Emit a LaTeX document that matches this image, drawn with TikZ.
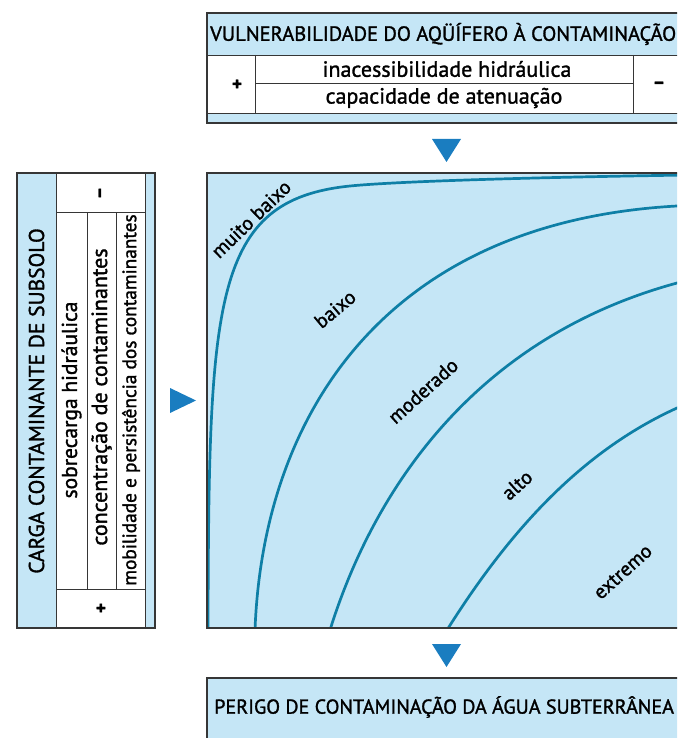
\documentclass[tikz,border=0pt]{standalone}
\usepackage{fontspec}
\setmainfont[FakeBold=1.4]{PT Sans}
\definecolor{panel}{HTML}{C5E6F6}
\definecolor{curve}{HTML}{0E7FA6}
\definecolor{tri}{HTML}{1A7DC0}
\definecolor{frame}{HTML}{363636}
\newcommand{\fsz}[1]{\fontsize{#1}{#1}\selectfont}
\begin{document}
\begin{tikzpicture}[x=1pt,y=-1pt,
  box/.style={draw=frame,line width=1.6pt},
  rule/.style={draw=frame,line width=0.9pt},
  zone/.style={draw=curve,line width=2.7pt},
  pointer/.style={fill=tri},
  label/.style={inner sep=0pt},
  sign/.style={font=\fsz{19}\bfseries,inner sep=0pt},
  level/.style={font=\fsz{20},inner sep=0pt,rotate=42},
]
\useasboundingbox (0,0) rectangle (677,738);
\clip (0,0) rectangle (677,738);

% ---- top panel: aquifer vulnerability
\fill[panel] (207,13) rectangle (690,55);
\fill[white] (207,55) rectangle (690,113);
\fill[panel] (207,113) rectangle (690,123);
\draw[rule] (207,55) -- (690,55) (207,113) -- (690,113);
\draw[rule] (255,55) -- (255,113) (633,55) -- (633,113) (255,83) -- (633,83);
\draw[box] (207,13) rectangle (690,123);
\node[label,font=\fsz{20.5},anchor=west] (vtitle) at (210,34) {VULNERABILIDADE DO AQÜÍFERO À CONTAMINAÇÃO};
\node[label,font=\fsz{22}] (inac) at (447,69) {inacessibilidade hidráulica};
\node[label,font=\fsz{22}] (aten) at (444,98) {capacidade de atenuação};
\node[sign] (vplus) at (237,85) {+};
\node[sign] (vminus) at (659,85) {–};

% ---- left panel: contaminant load
\fill[panel] (17,173) rectangle (56,628);
\fill[white] (56,173) rectangle (145,628);
\fill[panel] (145,173) rectangle (155,628);
\draw[rule] (56,173) -- (56,628) (145,173) -- (145,628);
\draw[rule] (56,212) -- (145,212) (56,589) -- (145,589);
\draw[rule] (87,212) -- (87,589) (116,212) -- (116,589);
\draw[box] (17,173) rectangle (155,628);
\node[label,font=\fsz{21.5},rotate=90] (ctitle) at (36.5,401) {CARGA CONTAMINANTE DE SUBSOLO};
\node[label,font=\fsz{21.5},rotate=90] (sobre) at (71.5,400) {sobrecarga hidráulica};
\node[label,font=\fsz{22},rotate=90] (conc) at (101.5,397) {concentração de contaminantes};
\node[label,font=\fsz{19.3},rotate=90] (mobi) at (131,400) {mobilidade e persistência dos contaminantes};
\node[sign,rotate=90] (cminus) at (102,193) {–};
\node[sign,rotate=90] (cplus) at (102,608) {+};

% ---- pointers
\fill[pointer] (432,139) -- (461,139) -- (446.5,162) -- cycle;
\fill[pointer] (170,388) -- (170,413) -- (196,400.5) -- cycle;
\fill[pointer] (432,644) -- (461,644) -- (446.5,667) -- cycle;

% ---- hazard chart
\fill[panel] (207,173) rectangle (690,628);
\begin{scope}
\clip (207,173) rectangle (690,628);
\draw[zone] (208,630) .. controls (209,300) and (212,200) .. (350,186)
            .. controls (400,181) and (550,177) .. (690,175);
\draw[zone] (255,630) .. controls (263,415) and (385,222) .. (677,206) -- (690,205);
\draw[zone] (330,630) .. controls (374,489) and (475,338) .. (677,283) -- (690,279.5);
\draw[zone] (447,630) .. controls (508,533) and (580,452) .. (677,408) -- (690,402);
\end{scope}
\draw[box] (207,173) rectangle (690,628);
\node[level,rotate=2] (mb) at (251,219) {muito baixo};
\node[level,rotate=-2] (bx) at (335,309) {baixo};
\node[level] (md) at (423,391) {moderado};
\node[level] (al) at (517,485) {alto};
\node[level] (ex) at (623,572) {extremo};

% ---- bottom panel: groundwater pollution hazard
\fill[panel] (207,678) rectangle (690,750);
\draw[box] (207,678) rectangle (690,750);
\node[label,font=\fsz{20.1},anchor=west] (htitle) at (214,707) {PERIGO DE CONTAMINAÇÃO DA ÁGUA SUBTERRÂNEA};
\end{tikzpicture}
\end{document}
